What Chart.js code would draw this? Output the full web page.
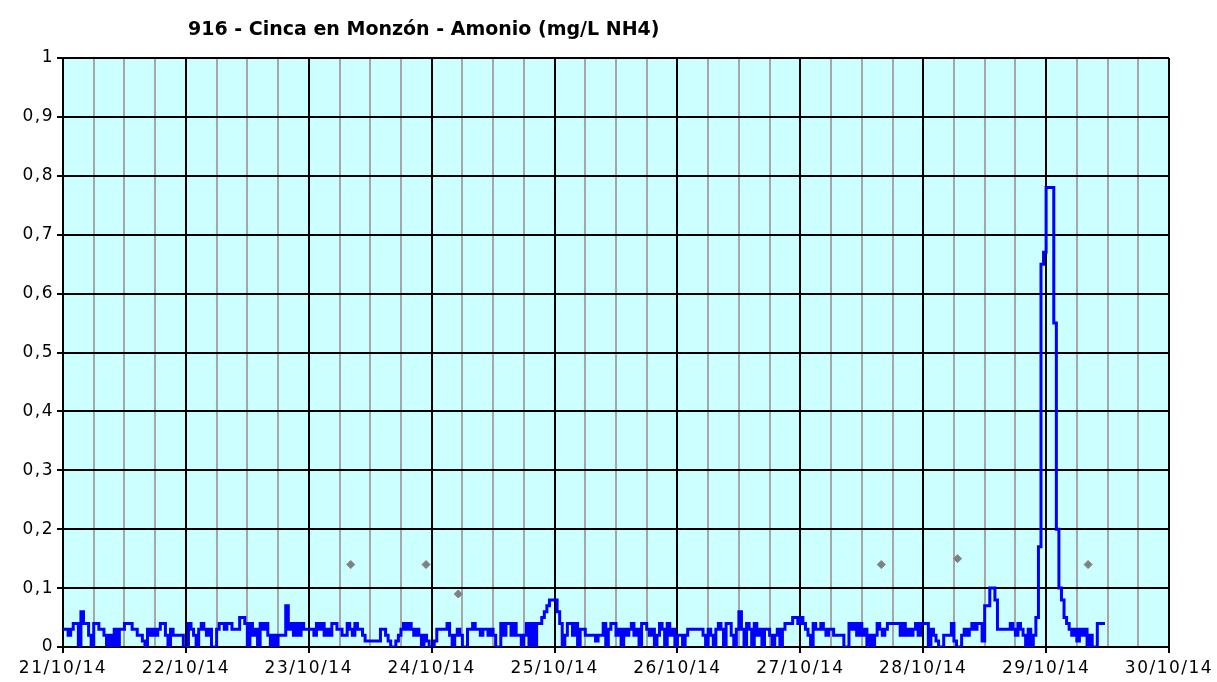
<!DOCTYPE html>
<html>
<head>
<meta charset="utf-8">
<script src="https://cdn.jsdelivr.net/npm/chart.js@4.4.1/dist/chart.umd.min.js"></script>
<style>
html,body{margin:0;padding:0;background:#fff}
#wrap{position:relative;width:1217px;height:682px}
#wrap canvas{position:absolute;left:0;top:0}
#ttl{position:absolute;left:188px;top:19px;font:bold 19px "DejaVu Sans",sans-serif;line-height:19px;color:#000;white-space:nowrap}
</style>
</head>
<body>
<div id="wrap">
<canvas id="c" width="1217" height="682"></canvas>
<div id="ttl">916 - Cinca en Monzón - Amonio (mg/L NH4)</div>
</div>
<script>
/* ===== 916 - Cinca en Monzón - Amonio ===== */
const STEP_H=0.5; // horas entre lecturas
const dayLabels=['21/10/14','22/10/14','23/10/14','24/10/14','25/10/14','26/10/14','27/10/14','28/10/14','29/10/14','30/10/14'];
const yLabels=['0','0,1','0,2','0,3','0,4','0,5','0,6','0,7','0,8','0,9','1'];

// lecturas de la estación (mg/L NH4), cada media hora
const d21=[0.03,0.03,0.02,0.03,0.04,0.04,0.00,0.06,0.04,0.04,0.02,0.00,0.04,0.04,0.03,0.03,0.02,0.00,0.02,0.00,0.03,0.00,0.03,0.03,0.04,0.04,0.04,0.03,0.03,0.02,0.02,0.01,0.00,0.03,0.02,0.03,0.02,0.03,0.04,0.04,0.02,0.00,0.03,0.02,0.02,0.02,0.02,0.00];
const d22=[0.00,0.04,0.03,0.02,0.00,0.03,0.04,0.03,0.02,0.03,0.00,0.00,0.03,0.04,0.04,0.03,0.04,0.04,0.03,0.03,0.03,0.05,0.05,0.04,0.00,0.04,0.02,0.03,0.00,0.04,0.03,0.04,0.02,0.00,0.02,0.00,0.02,0.02,0.02,0.07,0.03,0.04,0.02,0.04,0.02,0.04,0.03,0.03];
const d23=[0.03,0.03,0.02,0.04,0.03,0.04,0.02,0.03,0.02,0.04,0.04,0.03,0.03,0.02,0.02,0.04,0.03,0.02,0.04,0.03,0.03,0.02,0.01,0.01,0.01,0.01,0.01,0.01,0.03,0.03,0.02,0.01,0.00,0.00,0.01,0.02,0.03,0.04,0.03,0.04,0.03,0.02,0.03,0.02,0.00,0.02,0.01,0.00];
const d24=[0.00,0.01,0.03,0.03,0.03,0.03,0.04,0.02,0.00,0.02,0.03,0.02,0.00,0.00,0.03,0.03,0.04,0.03,0.03,0.02,0.03,0.03,0.02,0.03,0.02,0.00,0.00,0.04,0.02,0.04,0.04,0.02,0.04,0.02,0.02,0.00,0.02,0.04,0.00,0.04,0.00,0.04,0.04,0.05,0.06,0.07,0.08,0.08];
const d25=[0.08,0.06,0.04,0.00,0.02,0.04,0.04,0.02,0.04,0.00,0.03,0.03,0.02,0.02,0.02,0.02,0.01,0.02,0.02,0.04,0.00,0.03,0.04,0.04,0.02,0.03,0.00,0.03,0.02,0.03,0.04,0.02,0.03,0.00,0.04,0.04,0.03,0.02,0.03,0.00,0.02,0.04,0.03,0.00,0.04,0.02,0.03,0.00];
const d26=[0.02,0.02,0.00,0.02,0.03,0.03,0.03,0.03,0.03,0.03,0.02,0.00,0.03,0.02,0.00,0.03,0.04,0.03,0.00,0.04,0.04,0.02,0.00,0.03,0.06,0.03,0.00,0.04,0.03,0.00,0.04,0.02,0.03,0.00,0.03,0.03,0.02,0.00,0.02,0.03,0.00,0.03,0.04,0.04,0.04,0.05,0.05,0.04];
const d27=[0.05,0.04,0.03,0.02,0.00,0.04,0.03,0.03,0.04,0.03,0.02,0.03,0.03,0.02,0.02,0.02,0.02,0.00,0.00,0.04,0.03,0.04,0.02,0.04,0.02,0.03,0.00,0.02,0.00,0.02,0.04,0.03,0.02,0.03,0.04,0.04,0.04,0.04,0.04,0.02,0.04,0.02,0.03,0.02,0.03,0.04,0.02,0.04];
const d28=[0.04,0.04,0.00,0.03,0.02,0.01,0.00,0.00,0.02,0.02,0.02,0.04,0.01,0.00,0.00,0.02,0.03,0.02,0.03,0.04,0.03,0.04,0.04,0.01,0.07,0.07,0.10,0.10,0.08,0.03,0.03,0.03,0.03,0.03,0.04,0.03,0.02,0.04,0.03,0.02,0.00,0.03,0.00,0.02,0.05,0.17,0.65,0.67];
const d29=[0.78,0.78,0.78,0.55,0.20,0.10,0.08,0.05,0.04,0.03,0.02,0.03,0.01,0.03,0.02,0.03,0.00,0.02,0.00,0.00,0.04,0.04,0.04,0.04];

// muestras de laboratorio (horas desde 21/10 00:00)
const labHours=[56.2,70.9,77.2,159.8,174.7,200.2];
const labValues=[0.14,0.14,0.09,0.14,0.15,0.14];

const nh4=[].concat(d21,d22,d23,d24,d25,d26,d27,d28,d29);
const lineData=nh4.map((v,i)=>({x:i*STEP_H,y:v}));
const labData=labHours.map((h,i)=>({x:h,y:labValues[i]}));

// fondo del área de trazado + espaciado de letras de los ejes
const plotBg={id:'plotBg',
  beforeInit(c){c.ctx.letterSpacing='1.5px';},
  beforeDraw(c){
    const a=c.chartArea,ctx=c.ctx;
    ctx.letterSpacing='1.5px';
    ctx.save();ctx.fillStyle='#ccffff';
    ctx.fillRect(a.left,a.top,a.right-a.left,a.bottom-a.top);
    ctx.restore();
  }};

const tickFont={family:'DejaVu Sans',size:17};
const isDay=c=>c.tick&&Math.round(c.tick.value)%24===0;

new Chart(document.getElementById('c'),{
  type:'line',
  data:{datasets:[
    {data:lineData,borderColor:'#0000ff',borderWidth:3,pointRadius:0,stepped:true,fill:false,order:2},
    {data:labData,showLine:false,pointStyle:'rectRot',pointRadius:4,pointBackgroundColor:'#808080',pointBorderColor:'#808080',pointBorderWidth:1,order:1}
  ]},
  options:{
    responsive:false,animation:false,
    layout:{padding:{left:0,right:48,top:58,bottom:0}},
    plugins:{legend:{display:false},tooltip:{enabled:false}},
    scales:{
      x:{type:'linear',min:0,max:216,
        afterFit:s=>{s.height=35;},
        border:{color:'#000',width:2},
        grid:{color:c=>isDay(c)?'#000':'#a6a6a6',lineWidth:2,tickLength:6,
          tickColor:c=>isDay(c)?'#000':'rgba(0,0,0,0)'},
        ticks:{stepSize:6,autoSkip:false,maxRotation:0,minRotation:0,padding:5,color:'#000',font:tickFont,
          callback:v=>Math.round(v)%24===0?dayLabels[Math.round(v)/24]:''}},
      y:{min:0,max:1,
        afterFit:s=>{s.width=63;},
        border:{color:'#000',width:2},
        grid:{color:'#000',lineWidth:2,tickLength:6,tickColor:'#000'},
        ticks:{stepSize:0.1,padding:3,color:'#000',font:tickFont,callback:(v,i)=>yLabels[i]}}
    }
  },
  plugins:[plotBg]
});
</script>
</body>
</html>
